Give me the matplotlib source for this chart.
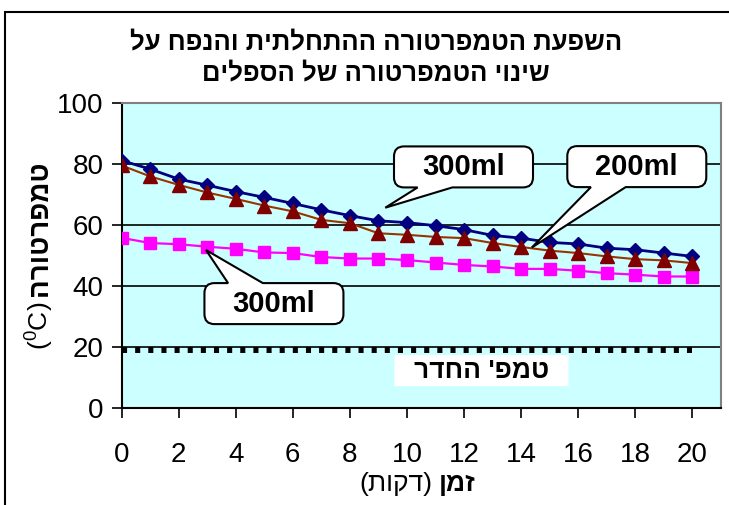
"""
Cooling curves of water in cups: temperature vs. time for three cups,
with the room temperature as a dotted reference line.

Run: python plot.py  ->  out.png
"""
import matplotlib
matplotlib.use("Agg")
import matplotlib.pyplot as plt
from matplotlib.path import Path
from matplotlib.patches import PathPatch
from matplotlib.transforms import IdentityTransform

plt.rcParams["font.family"] = ["Liberation Sans", "DejaVu Sans"]
plt.rcParams["mathtext.fontset"] = "custom"
plt.rcParams["mathtext.rm"] = "Liberation Sans"
plt.rcParams["mathtext.it"] = "Liberation Sans"

W, H = 729, 505

# minutes since start
minutes = list(range(21))
# 300ml cup, hot start
cup300_hot = [81.2, 78.4, 75.1, 73.1, 71.0, 69.1, 67.1, 65.0, 63.1, 61.4, 60.8,
              59.8, 58.5, 56.6, 55.7, 54.3, 53.8, 52.4, 51.9, 50.8, 49.7]
# 200ml cup
cup200 = [79.6, 76.0, 73.2, 70.7, 68.6, 66.4, 64.5, 61.7, 60.6, 57.3, 56.8,
          56.1, 55.7, 54.1, 52.8, 51.6, 50.8, 49.7, 48.8, 48.4, 47.5]
# 300ml cup, warm start
cup300_warm = [55.8, 54.1, 53.7, 52.9, 52.2, 51.0, 50.8, 49.5, 49.0, 49.0, 48.5,
               47.7, 46.9, 46.4, 45.6, 45.6, 45.0, 44.2, 43.7, 43.1, 43.1]
room_x = [0, 20]
room_temp = [19, 19]

x_ticks = list(range(0, 21, 2))
y_ticks = list(range(0, 101, 20))

title_lines = ["השפעת הטמפרטורה ההתחלתית והנפח על", "שינוי הטמפרטורה של הספלים"]


def rtl(s):
    # matplotlib lays text out left-to-right, so flip Hebrew by hand
    return s[::-1].translate(str.maketrans("()", ")("))


def px(x, y):
    # figure pixel (top-left origin) -> figure fraction
    return x / W, 1 - y / H


def bubble(ax, center, w, h, r=9, tip=None, side="bottom", base=(0.17, 0.42),
           **kw):
    """Rounded box (w x h pixels) centred on a data point, with an optional
    wedge pointing at `tip` (data coords) from the top or bottom edge."""
    cx, cy = ax.transData.transform(center)
    L, R, B, T = cx - w / 2, cx + w / 2, cy - h / 2, cy + h / 2
    b1, b2 = L + base[0] * w, L + base[1] * w
    verts, codes = [(L + r, B)], [Path.MOVETO]
    if tip is not None and side == "bottom":
        tx, ty = ax.transData.transform(tip)
        verts += [(b1, B), (tx, ty), (b2, B)]
        codes += [Path.LINETO] * 3
    verts += [(R - r, B), (R, B), (R, B + r), (R, T - r), (R, T), (R - r, T)]
    codes += [Path.LINETO, Path.CURVE3, Path.CURVE3,
              Path.LINETO, Path.CURVE3, Path.CURVE3]
    if tip is not None and side == "top":
        tx, ty = ax.transData.transform(tip)
        verts += [(b2, T), (tx, ty), (b1, T)]
        codes += [Path.LINETO] * 3
    verts += [(L + r, T), (L, T), (L, T - r), (L, B + r), (L, B), (L + r, B),
              (L + r, B)]
    codes += [Path.LINETO, Path.CURVE3, Path.CURVE3,
              Path.LINETO, Path.CURVE3, Path.CURVE3, Path.CLOSEPOLY]
    patch = PathPatch(Path(verts, codes), transform=IdentityTransform(), **kw)
    ax.add_artist(patch)
    return patch


fig = plt.figure(figsize=(W / 100, H / 100), dpi=100)
ax = fig.add_axes([121.5 / W, 1 - 407.7 / H, (721 - 121.5) / W, (407.7 - 103.3) / H])
ax.set_facecolor("#ccffff")
ax.set_xlim(0, 21)
ax.set_ylim(0, 100)
ax.set_xticks(x_ticks)
ax.set_yticks(y_ticks)
ax.tick_params(axis="both", direction="out", length=7, width=1.2,
               labelsize=20, colors="black")
ax.tick_params(axis="x", pad=18)
ax.tick_params(axis="y", pad=6)
for side in ("left", "bottom"):
    ax.spines[side].set_color("black")
    ax.spines[side].set_linewidth(1.5)
for side in ("top", "right"):
    ax.spines[side].set_color("#808080")
    ax.spines[side].set_linewidth(1.5)
ax.yaxis.grid(True, color="black", linewidth=1.2)
ax.set_axisbelow(True)

ax.plot(room_x, room_temp, color="black", linewidth=4.3,
        linestyle=(0, (0.85, 1.35)), dash_capstyle="butt", zorder=3)
ax.plot(minutes, cup300_warm, color="#ff00ff", linewidth=1.6,
        marker="s", markersize=8.5, markerfacecolor="#ff00ff",
        markeredgecolor="#ff00ff", zorder=4)
ax.plot(minutes, cup300_hot, color="#000080", linewidth=2.0,
        marker="D", markersize=7.5, markerfacecolor="#000080",
        markeredgecolor="#000080", zorder=4)
ax.plot(minutes, cup200, color="#993300", linewidth=1.5,
        marker="^", markersize=10.5, markerfacecolor="#800000",
        markeredgecolor="#800000", zorder=5)

# room-temperature label on a plain white patch
bubble(ax, (12.61, 12.2), 174, 31, r=0, facecolor="white", edgecolor="none",
       zorder=6)
ax.text(12.61, 12.2, rtl("טמפ' החדר"), ha="center", va="center",
        fontsize=19, fontweight="bold", zorder=7)

# callouts naming each curve
callouts = [
    ("300ml", (11.98, 79.1), (9.24, 65.7), "bottom"),
    ("200ml", (18.05, 79.2), (14.37, 52.6), "bottom"),
    ("300ml", (5.34, 34.2), (2.96, 51.8), "top"),
]
for label, center, tip, side in callouts:
    bubble(ax, center, 139, 41, r=10, tip=tip, side=side,
           facecolor="white", edgecolor="black", linewidth=1.5, zorder=8)
    ax.text(*center, label, ha="center", va="center", fontsize=21,
            fontweight="bold", zorder=9)

# title
fig.text(*px(376, 42), rtl(title_lines[0]), ha="center", va="center",
         fontsize=18.5, fontweight="bold")
fig.text(*px(376, 73), rtl(title_lines[1]), ha="center", va="center",
         fontsize=18.5, fontweight="bold")

# y label: bold Hebrew word above the regular unit
fig.text(*px(40, 296), rtl("טמפרטורה"), rotation=90, ha="center", va="bottom",
         fontsize=20, fontweight="bold")
fig.text(*px(40, 302), r"($^0$C)", rotation=90, ha="center", va="top",
         fontsize=19)

# x label: bold word on the right, unit on the left
fig.text(*px(432, 484), rtl("(דקות)"), ha="right", va="center", fontsize=19)
fig.text(*px(439, 484), rtl("זמן"), ha="left", va="center", fontsize=19,
         fontweight="bold")

# chart frame
fig.add_artist(plt.Rectangle((5 / W, -0.1), 2, 1 - 12 / H + 0.1,
                             transform=fig.transFigure, fill=False,
                             edgecolor="black", linewidth=1.5))

fig.savefig("out.png", dpi=100)
